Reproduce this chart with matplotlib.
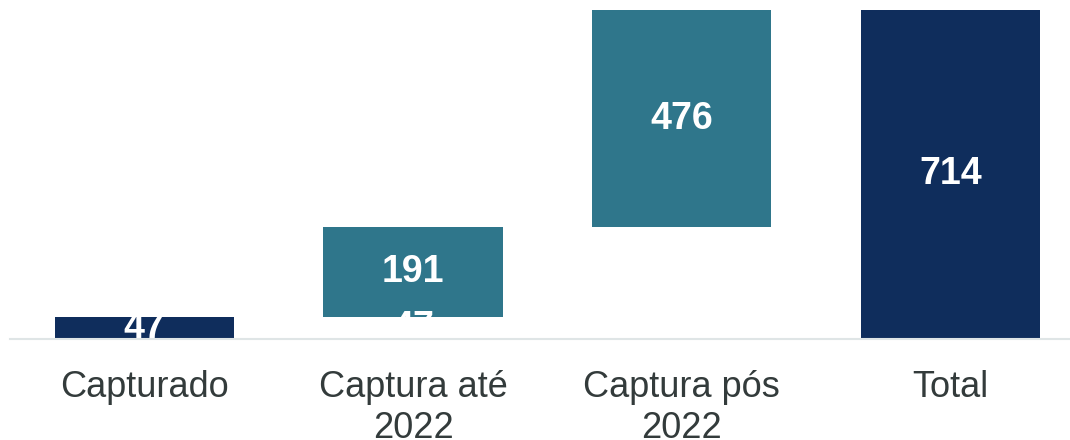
import numpy as np
import matplotlib.pyplot as plt

plt.rcParams['font.family'] = ['Liberation Sans', 'DejaVu Sans']

categories = ["Capturado", "Captura até\n2022", "Captura pós\n2022", "Total"]
values = [47, 191, 476, 714]
is_total = [True, False, False, True]

navy = "#0f2d5c"
teal = "#2f768b"
ytop = 700

# waterfall bases: running sum for the steps, zero for the totals
bases = []
running = 0
for v, tot in zip(values, is_total):
    if tot:
        bases.append(0)
        running = v
    else:
        bases.append(running)
        running += v
colors = [navy if t else teal for t in is_total]

fig = plt.figure(figsize=(10.7, 4.4), dpi=100)
ax = fig.add_axes([10/1070, 101/440, 1060/1070, 329/440])

x = np.arange(len(categories))
ax.bar(x, values, bottom=bases, width=0.667, color=colors, zorder=2)

for xi, v, b in zip(x, values, bases):
    # centre of the visible part of the bar
    ymid = (b + min(b + v, ytop)) / 2
    ax.text(xi, ymid, str(v), ha='center', va='center', color='white',
            fontsize=27, fontweight='bold', clip_on=True, zorder=3)
    # label of the hidden base segment (white on white)
    if b > 0 and b < 100:
        ax.text(xi, b/2, str(b), ha='center', va='center', color='white',
                fontsize=27, fontweight='bold', clip_on=True, zorder=3)

ax.set_xlim(-0.5, 3.5 - 15/269)
ax.set_ylim(0, ytop)
ax.set_xticks(x)
ax.set_xticklabels(categories, fontsize=26, color="#333b3b", linespacing=1.24)
ax.tick_params(axis='x', length=0, pad=22)
ax.set_yticks([])
for s in ['top', 'right', 'left']:
    ax.spines[s].set_visible(False)
ax.spines['bottom'].set_color("#dfe5e6")
ax.spines['bottom'].set_linewidth(1.5)
ax.spines['bottom'].set_zorder(4)

fig.savefig("out.png", dpi=100)
